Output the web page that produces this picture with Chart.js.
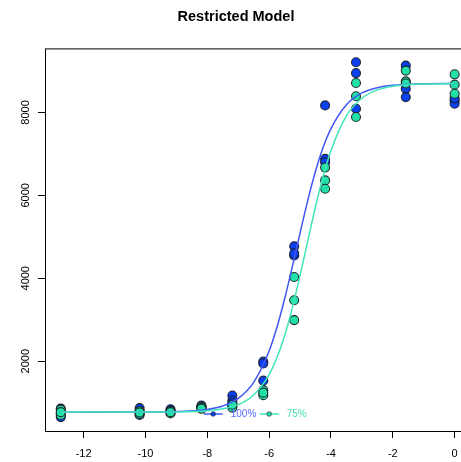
<!DOCTYPE html>
<html>
<head>
<meta charset="utf-8">
<script src="https://cdn.jsdelivr.net/npm/chart.js@4.4.0/dist/chart.umd.min.js"></script>
<style>
  html, body { margin: 0; padding: 0; background: #fff; overflow: hidden; }
</style>
</head>
<body>
<canvas id="myChart" width="476" height="462"></canvas>
<script>
// log concentrations on the x axis
var logConc = [-12.74, -10.19, -9.19, -8.19, -7.19, -6.19, -5.19, -4.19, -3.19, -1.58, 0];

// three replicates per concentration
var full = [
    [855, 650, 750],
    [867, 703, 790],
    [840, 770, 800],
    [930, 900, 880],
    [1170, 1050, 990],
    [1990, 1944, 1530],
    [4770, 4550, 4600],
    [8170, 6880, 6800],
    [9210, 8950, 8090],
    [9130, 8570, 8370],
    [8290, 8210, 8340]
];
var threeQuarter = [
    [830, 700, 770],
    [795, 728, 760],
    [800, 740, 770],
    [900, 870, 850],
    [920, 880, 950],
    [1300, 1180, 1240],
    [4030, 3470, 2990],
    [6670, 6360, 6160],
    [8710, 8390, 7890],
    [9010, 8750, 8700],
    [8920, 8670, 8450]
];

// fitted curves
var curveX = [-12.74, -10, -9, -8, -7.5, -7, -6.5, -6, -5.75, -5.5, -5.25, -5, -4.75, -4.5, -4.25, -4, -3.5, -3, -2.5, -2, -1, 0];
var fullCurve = [770, 772, 783, 836, 918, 1100, 1490, 2245, 2810, 3500, 4280, 5090, 5880, 6580, 7165, 7610, 8185, 8470, 8597, 8655, 8690, 8698];
var threeQuarterCurve = [770, 772, 776, 804, 850, 952, 1185, 1678, 2080, 2615, 3285, 4068, 4902, 5726, 6466, 7083, 7920, 8343, 8545, 8633, 8685, 8698];

var xTicks = [-12, -10, -8, -6, -4, -2, 0];
var yTicks = [2000, 4000, 6000, 8000];

var seriesNames = ['100%', '75%'];

function toPoints(groups) {
    var pts = [];
    for (var i = 0; i < logConc.length; i++) {
        for (var r = 0; r < groups[i].length; r++) {
            pts.push({x: logConc[i], y: groups[i][r]});
        }
    }
    return pts;
}
function toCurve(ys) {
    return curveX.map(function (x, i) { return {x: x, y: ys[i]}; });
}

var blueFill = '#0a40ee';
var tealFill = '#22e0a6';
var blueLine = '#4157f5';
var tealLine = '#3fe6b9';

Chart.defaults.font.family = "'Liberation Sans', Arial, sans-serif";
Chart.defaults.color = '#000';

// box round the plot and the legend inside it
var boxAndLegend = {
    id: 'boxAndLegend',
    afterDatasetsDraw: function (chart) {
        var ctx = chart.ctx, a = chart.chartArea;
        ctx.save();
        ctx.strokeStyle = '#000';
        ctx.lineWidth = 1;
        ctx.strokeRect(a.left + 0.5, a.top + 0.5, a.right - a.left, a.bottom - a.top);

        var y = a.bottom - 17;
        var x = a.left + (a.right - a.left) / 2 - 54;
        var items = [
            {text: seriesNames[0], line: blueLine, fill: blueFill, text_c: '#5a6cff'},
            {text: seriesNames[1], line: tealLine, fill: tealFill, text_c: '#45e3b2'}
        ];
        ctx.font = "10px 'Liberation Sans', Arial, sans-serif";
        ctx.textBaseline = 'middle';
        items.forEach(function (it) {
            ctx.strokeStyle = it.line;
            ctx.lineWidth = 1.5;
            ctx.beginPath();
            ctx.moveTo(x, y);
            ctx.lineTo(x + 19, y);
            ctx.stroke();
            ctx.beginPath();
            ctx.arc(x + 9.5, y, 2.3, 0, Math.PI * 2);
            ctx.fillStyle = it.fill;
            ctx.fill();
            ctx.strokeStyle = 'rgba(40,40,60,0.8)';
            ctx.lineWidth = 0.8;
            ctx.stroke();
            ctx.fillStyle = it.text_c;
            ctx.fillText(it.text, x + 27, y + 0.5);
            x += 56;
        });
        ctx.restore();
    }
};

var ctx = document.getElementById('myChart').getContext('2d');
var myChart = new Chart(ctx, {
    type: 'scatter',
    data: {
        datasets: [{
            label: seriesNames[0],
            data: toPoints(full),
            backgroundColor: blueFill,
            borderColor: 'rgba(25,25,35,0.9)',
            borderWidth: 1.1,
            pointRadius: 4.5,
            order: 3
        }, {
            label: seriesNames[1],
            data: toPoints(threeQuarter),
            backgroundColor: tealFill,
            borderColor: 'rgba(25,25,35,0.9)',
            borderWidth: 1.1,
            pointRadius: 4.5,
            order: 2
        }, {
            label: seriesNames[0] + ' fit',
            data: toCurve(fullCurve),
            showLine: true,
            borderColor: blueLine,
            borderWidth: 1.5,
            pointRadius: 0,
            cubicInterpolationMode: 'monotone',
            order: 1
        }, {
            label: seriesNames[1] + ' fit',
            data: toCurve(threeQuarterCurve),
            showLine: true,
            borderColor: tealLine,
            borderWidth: 1.5,
            pointRadius: 0,
            cubicInterpolationMode: 'monotone',
            order: 0
        }]
    },
    options: {
        responsive: false,
        animation: false,
        layout: {
            padding: {
                left: 0,
                right: 4,
                top: 0,
                bottom: 0
            }
        },
        plugins: {
            title: {
                display: true,
                text: 'Restricted Model',
                font: {size: 14.5, weight: 'bold'},
                padding: {top: 8, bottom: 23}
            },
            legend: {display: false},
            tooltip: {enabled: false}
        },
        scales: {
            x: {
                type: 'linear',
                min: -13.25,
                max: 0.51,
                afterBuildTicks: function (scale) {
                    scale.ticks = xTicks.map(function (v) { return {value: v}; });
                },
                afterFit: function (scale) { scale.height = 31; },
                grid: {drawOnChartArea: false, tickLength: 7, tickColor: '#000'},
                border: {display: false},
                ticks: {font: {size: 11}, padding: 9, maxRotation: 0}
            },
            y: {
                type: 'linear',
                min: 315,
                max: 9545,
                afterBuildTicks: function (scale) {
                    scale.ticks = yTicks.map(function (v) { return {value: v}; });
                },
                afterFit: function (scale) { scale.width = 45; },
                grid: {drawOnChartArea: false, tickLength: 7, tickColor: '#000'},
                border: {display: false},
                ticks: {
                    font: {size: 11},
                    padding: 0,
                    minRotation: 90,
                    maxRotation: 90,
                    crossAlign: 'center',
                    callback: function (v) { return String(v); }
                }
            }
        }
    },
    plugins: [boxAndLegend]
});
</script>
</body>
</html>
